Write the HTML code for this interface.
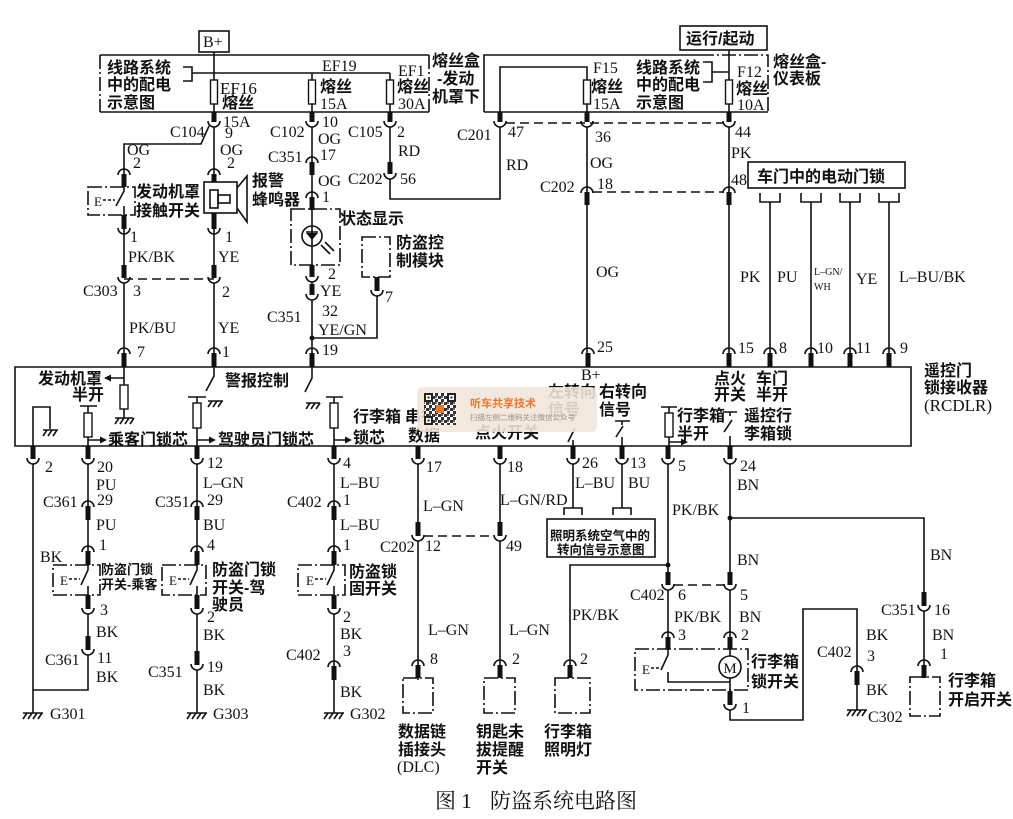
<!DOCTYPE html>
<html><head><meta charset="utf-8">
<style>
html,body{margin:0;padding:0;background:#fff;}
svg{display:block;}
.t{font-family:"Liberation Serif","Noto Serif CJK SC",serif;font-size:16px;fill:#111;}
.c{font-family:"Liberation Sans","Noto Sans CJK SC",sans-serif;font-size:16px;font-weight:bold;fill:#111;}
.s{font-family:"Liberation Sans","Noto Sans CJK SC",sans-serif;font-size:13px;font-weight:bold;fill:#111;}
.w{fill:none;stroke:#111;stroke-width:1.6;}
.d{fill:none;stroke:#111;stroke-width:1.6;stroke-dasharray:9 5;}
.dd{fill:none;stroke:#111;stroke-width:1.6;stroke-dasharray:14 3 2 3;}
.b{fill:#111;}
.r{fill:#fff;stroke:#111;stroke-width:1.4;}
</style></head><body>
<svg width="1013" height="819" viewBox="0 0 1013 819" xmlns="http://www.w3.org/2000/svg">
<defs>
<pattern id="qr" width="6" height="6" patternUnits="userSpaceOnUse"><rect width="6" height="6" fill="#fff"/><rect x="0" y="0" width="3" height="3" fill="#333"/><rect x="3" y="3" width="3" height="3" fill="#333"/><rect x="3" y="0" width="2" height="2" fill="#666"/></pattern>
</defs>
<rect width="1013" height="819" fill="#fff"/>

<!-- ===== TOP FUSE AREA ===== -->
<rect x="199" y="31" width="30" height="21" class="w"/>
<text class="t" x="203" y="47">B+</text>
<path class="w" d="M100,55 H429 M100,112 H429"/>
<path class="dd" d="M100,55 V112 M429,55 V112"/>
<path class="w" d="M484,112 V55 H700 M484,112 H768"/>
<path class="dd" d="M700,55 H768 V112"/>
<rect x="680" y="26" width="87" height="24" class="w"/>
<text class="c" x="686" y="44">运行/起动</text>

<path class="w" d="M183,67 H192 V81 H183 M192,73 H390"/>
<path class="w" d="M703,62 H712 V82 H703 M712,72 H729"/>
<path class="w" d="M214,52 V112 M312,73 V112 M390,73 V112 M729,50 V112"/>
<path class="w" d="M500,112 V67 H587 V112"/>

<rect class="r" x="210.5" y="80" width="7" height="24"/>
<rect class="r" x="308.5" y="80" width="7" height="24"/>
<rect class="r" x="386.5" y="80" width="7" height="24"/>
<rect class="r" x="583.5" y="80" width="7" height="24"/>
<rect class="r" x="725.5" y="80" width="7" height="24"/>

<text class="c" x="107" y="73">线路系统</text>
<text class="c" x="107" y="90">中的配电</text>
<text class="c" x="107" y="108">示意图</text>
<text class="t" x="220" y="94" style="font-size:17px">EF16</text>
<text class="c" x="222" y="108">熔丝</text>
<text class="t" x="223" y="127">15A</text>
<text class="t" x="322" y="71">EF19</text>
<text class="c" x="320" y="92">熔丝</text>
<text class="t" x="320" y="109">15A</text>
<text class="t" x="398" y="76">EF1</text>
<text class="c" x="397" y="92">熔丝</text>
<text class="t" x="398" y="109">30A</text>
<text class="c" x="432" y="66">熔丝盒</text>
<text class="c" x="437" y="84">-发动</text>
<text class="c" x="432" y="102">机罩下</text>
<text class="t" x="593" y="73">F15</text>
<text class="c" x="591" y="92">熔丝</text>
<text class="t" x="593" y="109">15A</text>
<text class="c" x="636" y="73">线路系统</text>
<text class="c" x="636" y="90">中的配电</text>
<text class="c" x="636" y="108">示意图</text>
<text class="t" x="737" y="77">F12</text>
<text class="c" x="736" y="94">熔丝</text>
<text class="t" x="737" y="110">10A</text>
<text class="c" x="773" y="67">熔丝盒-</text>
<text class="c" x="773" y="84">仪表板</text>

<!-- top cups -->
<g>
<rect class="b" x="211.5" y="112" width="5" height="10"/><path class="w" d="M208,121 A6,6 0 0 0 220,121"/>
<rect class="b" x="309.5" y="112" width="5" height="10"/><path class="w" d="M306,121 A6,6 0 0 0 318,121"/>
<rect class="b" x="387.5" y="112" width="5" height="10"/><path class="w" d="M384,121 A6,6 0 0 0 396,121"/>
<rect class="b" x="497.5" y="112" width="5" height="10"/><path class="w" d="M494,121 A6,6 0 0 0 506,121"/>
<rect class="b" x="584.5" y="112" width="5" height="10"/><path class="w" d="M581,121 A6,6 0 0 0 593,121"/>
<rect class="b" x="726.5" y="112" width="5" height="10"/><path class="w" d="M723,121 A6,6 0 0 0 735,121"/>
</g>

<!-- upper wires -->
<path class="w" d="M209,126 L201,144 H124 V174"/>
<path class="w" d="M214,127 V174"/>
<path class="w" d="M124,229 V265 M214,229 V265"/>
<path class="d" d="M124,279 H214"/>
<path class="w" d="M124,283 V353 M214,283 V353"/>
<path class="w" d="M312,127 V162 M312,175 V197 M312,210 V265 M312,282 V284 M312,300 V353"/>
<path class="w" d="M312,338 H377 V296"/>
<circle cx="312" cy="338" r="2.5" class="b"/>
<path class="w" d="M390,127 V162 M390,179 V199 H500 V127"/>
<path class="d" d="M506,123 H723"/>
<path class="w" d="M587,127 V192 M587,205 V353"/>
<path class="d" d="M593,192 H723"/>
<path class="w" d="M729,127 V192 M729,205 V353"/>
<path class="w" d="M770,202 V353 M811,202 V353 M850,202 V353 M889,202 V353"/>

<!-- caps / cups upper -->
<path class="w" d="M118,175 A6,6 0 0 1 130,175"/><rect class="b" x="121.5" y="174" width="5" height="13"/>
<path class="w" d="M208,175 A6,6 0 0 1 220,175"/><rect class="b" x="211.5" y="174" width="5" height="8"/>
<path class="w" d="M306,163 A6,6 0 0 1 318,163"/><rect class="b" x="309.5" y="162" width="5" height="13"/>
<path class="w" d="M306,198 A6,6 0 0 1 318,198"/><rect class="b" x="309.5" y="197" width="5" height="13"/>
<path class="w" d="M581,193 A6,6 0 0 1 593,193"/><rect class="b" x="584.5" y="192" width="5" height="13"/>
<path class="w" d="M723,193 A6,6 0 0 1 735,193"/><rect class="b" x="726.5" y="192" width="5" height="13"/>
<rect class="b" x="387.5" y="162" width="5" height="12"/><path class="w" d="M384,173 A6,6 0 0 0 396,173"/>
<rect class="b" x="121.5" y="215" width="5" height="14"/><path class="w" d="M118,228 A6,6 0 0 0 130,228"/>
<rect class="b" x="211.5" y="213" width="5" height="16"/><path class="w" d="M208,228 A6,6 0 0 0 220,228"/>
<rect class="b" x="121.5" y="265" width="5" height="13"/><path class="w" d="M118,277 A6,6 0 0 0 130,277"/>
<rect class="b" x="211.5" y="265" width="5" height="13"/><path class="w" d="M208,277 A6,6 0 0 0 220,277"/>
<rect class="b" x="309.5" y="265" width="5" height="12"/><path class="w" d="M306,276 A6,6 0 0 0 318,276"/>
<rect class="b" x="309.5" y="284" width="5" height="11"/><path class="w" d="M306,294 A6,6 0 0 0 318,294"/>
<rect class="b" x="374.5" y="277" width="5" height="14"/><path class="w" d="M371,290 A6,6 0 0 0 383,290"/>

<!-- hood switch -->
<rect class="dd" x="88" y="187" width="47" height="28"/>
<text class="t" x="94" y="206" style="font-size:13px">E</text>
<path class="w" d="M103,200 H115" stroke-dasharray="3 2"/>
<path class="w" d="M124,187 V191 L116,206 M124,206 V215"/>
<text class="c" x="136" y="197">发动机罩</text>
<text class="c" x="136" y="216">接触开关</text>

<!-- buzzer -->
<rect class="w" x="204" y="182" width="33" height="31"/>
<rect class="w" x="210" y="190" width="8" height="18"/>
<rect class="w" x="218" y="195" width="12" height="8"/>
<path class="w" d="M237,188 L247,176 V222 L237,208"/>
<text class="c" x="252" y="186">报警</text>
<text class="c" x="252" y="205">蜂鸣器</text>

<!-- status LED -->
<rect class="dd" x="291" y="209" width="49" height="56"/>
<rect x="305" y="226" width="14" height="20" fill="#fff"/>
<circle cx="312" cy="236" r="10" class="w"/>
<path class="w" d="M312,226 V246 M306,232 H318"/>
<path d="M306,233 L318,233 L312,240 Z" class="b"/>
<path class="w" d="M321,245 L330,254 M325,242 L334,251"/>
<text class="c" x="340" y="224">状态显示</text>
<rect class="dd" x="362" y="237" width="28" height="40"/>
<text class="c" x="396" y="248">防盗控</text>
<text class="c" x="396" y="266">制模块</text>

<!-- door lock box -->
<rect class="w" x="748" y="162" width="157" height="26"/>
<text class="c" x="757" y="182">车门中的电动门锁</text>
<path class="w" d="M760,193 V202 H780 V193 M801,193 V202 H821 V193 M840,193 V202 H860 V193 M879,193 V202 H899 V193"/>

<!-- upper labels -->
<text class="t" x="170" y="137">C104</text><text class="t" x="225" y="138">9</text>
<text class="t" x="127" y="155">OG</text><text class="t" x="133" y="168">2</text>
<text class="t" x="220" y="155">OG</text><text class="t" x="227" y="168">2</text>
<text class="t" x="130" y="242">1</text><text class="t" x="225" y="242">1</text>
<text class="t" x="128" y="262">PK/BK</text><text class="t" x="218" y="262">YE</text>
<text class="t" x="83" y="296">C303</text><text class="t" x="133" y="296">3</text><text class="t" x="222" y="297">2</text>
<text class="t" x="129" y="333">PK/BU</text><text class="t" x="218" y="333">YE</text>
<text class="t" x="137" y="357">7</text><text class="t" x="222" y="357">1</text>
<text class="t" x="322" y="127">10</text>
<text class="t" x="270" y="137">C102</text>
<text class="t" x="318" y="144">OG</text>
<text class="t" x="268" y="162">C351</text><text class="t" x="320" y="160">17</text>
<text class="t" x="318" y="186">OG</text>
<text class="t" x="322" y="202">1</text>
<text class="t" x="328" y="279">2</text>
<text class="t" x="320" y="296">YE</text>
<text class="t" x="267" y="322">C351</text><text class="t" x="322" y="316">32</text>
<text class="t" x="318" y="335">YE/GN</text>
<text class="t" x="322" y="355">19</text>
<text class="t" x="385" y="302">7</text>
<text class="t" x="348" y="137">C105</text><text class="t" x="397" y="137">2</text>
<text class="t" x="398" y="156">RD</text>
<text class="t" x="348" y="184">C202</text><text class="t" x="400" y="184">56</text>
<text class="t" x="457" y="140">C201</text><text class="t" x="508" y="137">47</text>
<text class="t" x="506" y="170">RD</text>
<text class="t" x="595" y="142">36</text>
<text class="t" x="590" y="168">OG</text>
<text class="t" x="540" y="192">C202</text><text class="t" x="597" y="189">18</text>
<text class="t" x="735" y="137">44</text>
<text class="t" x="731" y="158">PK</text>
<text class="t" x="731" y="185">48</text>
<text class="t" x="596" y="277">OG</text>
<text class="t" x="740" y="282">PK</text>
<text class="t" x="777" y="282">PU</text>
<text class="t" x="814" y="275" style="font-size:10px">L–GN/</text>
<text class="t" x="814" y="290" style="font-size:10px">WH</text>
<text class="t" x="856" y="284">YE</text>
<text class="t" x="899" y="282">L–BU/BK</text>
<text class="t" x="597" y="352">25</text>
<text class="t" x="738" y="353">15</text>
<text class="t" x="779" y="353">8</text>
<text class="t" x="817" y="353">10</text>
<text class="t" x="856" y="353">11</text>
<text class="t" x="900" y="353">9</text>

<!-- module top caps -->
<g>
<path class="w" d="M118,354 A6,6 0 0 1 130,354"/><rect class="b" x="121.5" y="353" width="5" height="14"/>
<path class="w" d="M208,354 A6,6 0 0 1 220,354"/><rect class="b" x="211.5" y="353" width="5" height="14"/>
<path class="w" d="M306,354 A6,6 0 0 1 318,354"/><rect class="b" x="309.5" y="353" width="5" height="14"/>
<path class="w" d="M582,354 A6,6 0 0 1 594,354"/><rect class="b" x="585.5" y="353" width="5" height="14"/>
<path class="w" d="M723,354 A6,6 0 0 1 735,354"/><rect class="b" x="726.5" y="353" width="5" height="14"/>
<path class="w" d="M764,354 A6,6 0 0 1 776,354"/><rect class="b" x="767.5" y="353" width="5" height="14"/>
<path class="w" d="M805,354 A6,6 0 0 1 817,354"/><rect class="b" x="808.5" y="353" width="5" height="14"/>
<path class="w" d="M844,354 A6,6 0 0 1 856,354"/><rect class="b" x="847.5" y="353" width="5" height="14"/>
<path class="w" d="M883,354 A6,6 0 0 1 895,354"/><rect class="b" x="886.5" y="353" width="5" height="14"/>
</g>

<!-- ===== MODULE ===== -->
<path class="w" d="M15,367 H911 V446 H15 Z" stroke-width="1.8"/>
<!-- left internal -->
<path class="w" d="M33,446 V407 H50 V429"/>
<path class="w" d="M43,430 H58 M47,430 L43,436 M52,430 L48,436 M57,430 L53,436"/>
<path class="w" d="M80,406 H97 M88,406 V413 M88,437 V446 M88,440 H101"/>
<rect class="r" x="84" y="413" width="8" height="24"/>
<path d="M107,440 L100,436.5 L100,443.5 Z" class="b"/>
<path class="w" d="M124,367 V385 M124,409 V418 M107,378 H124"/>
<rect class="r" x="120" y="385" width="8" height="24"/>
<path d="M104,378 L111,374.5 L111,381.5 Z" class="b"/>
<path class="w" d="M115,418 H133 M119,418 L115,424 M124,418 L120,424 M129,418 L125,424 M134,418 L130,424"/>
<path class="w" d="M188,397 H206 M197,397 V403 M197,428 V446 M197,440 H209"/>
<rect class="r" x="193" y="403" width="8" height="25"/>
<path d="M216,440 L209,436.5 L209,443.5 Z" class="b"/>
<path class="w" d="M214,367 V376 L206,391"/>
<path class="w" d="M208,401 H223 M212,401 L208,407 M217,401 L213,407 M222,401 L218,407"/>
<path class="w" d="M312,367 V378 L305,392"/>
<path class="w" d="M306,403 H320 M310,403 L306,409 M315,403 L311,409 M320,403 L316,409"/>
<path class="w" d="M326,397 H343 M334,397 V403 M334,428 V446 M334,440 H345"/>
<rect class="r" x="330" y="403" width="8" height="25"/>
<path d="M352,440 L345,436.5 L345,443.5 Z" class="b"/>
<!-- right internal -->
<path class="w" d="M568,442 L575,428 M573,440 V446"/>
<path class="w" d="M615,421 H630 M622,421 V425 M616,437 L623,426 M622,437 V446"/>
<path class="w" d="M661,407 H677 M669,407 V413 M669,437 V446 M669,442 H681"/>
<rect class="r" x="665" y="413" width="8" height="24"/>
<path d="M688,442 L681,438.5 L681,445.5 Z" class="b"/>
<path class="w" d="M723,412 H737 M730,412 V416 M724,432 L732,420 M730,436 V446"/>

<!-- module texts -->
<text class="c" x="38" y="384">发动机罩</text>
<text class="c" x="72" y="400">半开</text>
<text class="c" x="108" y="445">乘客门锁芯</text>
<text class="c" x="218" y="445">驾驶员门锁芯</text>
<text class="c" x="225" y="386">警报控制</text>
<text class="c" x="353" y="422">行李箱</text>
<text class="c" x="353" y="443">锁芯</text>
<text class="c" x="405" y="422">串行</text>
<text class="c" x="408" y="441">数据</text>
<text class="c" x="475" y="438">点火开关</text>
<text class="c" x="548" y="397">左转向</text>
<text class="c" x="548" y="415">信号</text>
<text class="t" x="581" y="380">B+</text>
<text class="c" x="599" y="397">右转向</text>
<text class="c" x="599" y="415">信号</text>
<text class="c" x="714" y="384">点火</text>
<text class="c" x="714" y="400">开关</text>
<text class="c" x="756" y="384">车门</text>
<text class="c" x="756" y="400">半开</text>
<text class="c" x="677" y="421">行李箱</text>
<text class="c" x="677" y="439">半开</text>
<text class="c" x="744" y="421">遥控行</text>
<text class="c" x="744" y="439">李箱锁</text>
<text class="c" x="924" y="376">遥控门</text>
<text class="c" x="924" y="393">锁接收器</text>
<text class="t" x="924" y="411" style="font-size:17px">(RCDLR)</text>

<!-- watermark -->
<rect x="417" y="387" width="180" height="45" rx="6" fill="#f0e5d8" opacity="0.88"/>
<rect x="424" y="393" width="32" height="32" fill="url(#qr)"/>
<rect x="424" y="393" width="9" height="9" fill="#222"/><rect x="426" y="395" width="5" height="5" fill="#fff"/><rect x="427.5" y="396.5" width="2" height="2" fill="#222"/>
<rect x="447" y="393" width="9" height="9" fill="#222"/><rect x="449" y="395" width="5" height="5" fill="#fff"/><rect x="450.5" y="396.5" width="2" height="2" fill="#222"/>
<rect x="424" y="416" width="9" height="9" fill="#222"/><rect x="426" y="418" width="5" height="5" fill="#fff"/><rect x="427.5" y="419.5" width="2" height="2" fill="#222"/>
<rect x="436" y="405" width="8" height="8" fill="#e8772e"/>
<text x="470" y="407" font-family="Liberation Sans,Noto Sans CJK SC,sans-serif" font-size="11" font-weight="bold" fill="#e9782f">听车共享技术</text>
<text x="470" y="420" font-family="Liberation Sans,Noto Sans CJK SC,sans-serif" font-size="7.5" fill="#9a8f86">扫描左侧二维码关注微信公众号</text>

<!-- module bottom cups -->
<g>
<rect class="b" x="30.5" y="446" width="5" height="13"/><path class="w" d="M27,458 A6,6 0 0 0 39,458"/>
<rect class="b" x="85.5" y="446" width="5" height="13"/><path class="w" d="M82,458 A6,6 0 0 0 94,458"/>
<rect class="b" x="194.5" y="446" width="5" height="13"/><path class="w" d="M191,458 A6,6 0 0 0 203,458"/>
<rect class="b" x="331.5" y="446" width="5" height="13"/><path class="w" d="M328,458 A6,6 0 0 0 340,458"/>
<rect class="b" x="415.5" y="446" width="5" height="13"/><path class="w" d="M412,458 A6,6 0 0 0 424,458"/>
<rect class="b" x="497.5" y="446" width="5" height="13"/><path class="w" d="M494,458 A6,6 0 0 0 506,458"/>
<rect class="b" x="570.5" y="446" width="5" height="13"/><path class="w" d="M567,458 A6,6 0 0 0 579,458"/>
<rect class="b" x="619.5" y="446" width="5" height="13"/><path class="w" d="M616,458 A6,6 0 0 0 628,458"/>
<rect class="b" x="665.5" y="446" width="5" height="13"/><path class="w" d="M662,458 A6,6 0 0 0 674,458"/>
<rect class="b" x="727.5" y="446" width="5" height="13"/><path class="w" d="M724,458 A6,6 0 0 0 736,458"/>
</g>

<!-- ===== LOWER WIRES ===== -->
<path class="w" d="M33,464 V713"/>
<path class="w" d="M88,464 V506 M88,520 V551 M88,565 V570 L81,585 M88,586 V595 M88,614 V636 M88,655 V690 H33"/>
<path class="w" d="M197,464 V506 M197,520 V551 M197,565 V570 L190,585 M197,586 V595 M197,614 V651 M197,670 V713"/>
<path class="w" d="M334,464 V506 M334,520 V551 M334,565 V570 L327,585 M334,586 V595 M334,614 V666 M334,680 V713"/>
<path class="w" d="M418,464 V522 M418,541 V665 M418,678 V680"/>
<path class="w" d="M500,464 V522 M500,541 V665"/>
<path class="d" d="M424,536 H494"/>
<path class="w" d="M573,464 V508 M622,464 V508"/>
<path class="w" d="M564,515 V508 H582 V515 M613,515 V508 H631 V515"/>
<path class="w" d="M668,464 V572 M668,590 V637"/>
<path class="w" d="M668,565 H570 V665"/>
<circle cx="668" cy="565" r="2.5" class="b"/>
<path class="w" d="M730,464 V572 M730,590 V637"/>
<path class="w" d="M730,518 H924 V592 M924,611 V665"/>
<circle cx="730" cy="518" r="2.5" class="b"/>
<path class="d" d="M674,585 H724"/>
<path class="w" d="M730,649 V656 M730,678 V691 M730,710 V720 H803 V609 H857 V671 M857,685 V710"/>

<!-- lower connectors -->
<g>
<path class="w" d="M82,507 A6,6 0 0 1 94,507"/><rect class="b" x="85.5" y="506" width="5" height="14"/>
<path class="w" d="M191,507 A6,6 0 0 1 203,507"/><rect class="b" x="194.5" y="506" width="5" height="14"/>
<path class="w" d="M328,507 A6,6 0 0 1 340,507"/><rect class="b" x="331.5" y="506" width="5" height="14"/>
<path class="w" d="M82,552 A6,6 0 0 1 94,552"/><rect class="b" x="85.5" y="551" width="5" height="14"/>
<path class="w" d="M191,552 A6,6 0 0 1 203,552"/><rect class="b" x="194.5" y="551" width="5" height="14"/>
<path class="w" d="M328,552 A6,6 0 0 1 340,552"/><rect class="b" x="331.5" y="551" width="5" height="14"/>
<rect class="b" x="85.5" y="595" width="5" height="14"/><path class="w" d="M82,608 A6,6 0 0 0 94,608"/>
<rect class="b" x="194.5" y="595" width="5" height="14"/><path class="w" d="M191,608 A6,6 0 0 0 203,608"/>
<rect class="b" x="331.5" y="595" width="5" height="14"/><path class="w" d="M328,608 A6,6 0 0 0 340,608"/>
<rect class="b" x="85.5" y="636" width="5" height="14"/><path class="w" d="M82,649 A6,6 0 0 0 94,649"/>
<rect class="b" x="194.5" y="651" width="5" height="14"/><path class="w" d="M191,664 A6,6 0 0 0 203,664"/>
<path class="w" d="M328,667 A6,6 0 0 1 340,667"/><rect class="b" x="331.5" y="666" width="5" height="14"/>
<rect class="b" x="415.5" y="522" width="5" height="14"/><path class="w" d="M412,535 A6,6 0 0 0 424,535"/>
<rect class="b" x="497.5" y="522" width="5" height="14"/><path class="w" d="M494,535 A6,6 0 0 0 506,535"/>
<path class="w" d="M412,666 A6,6 0 0 1 424,666"/><rect class="b" x="415.5" y="665" width="5" height="13"/>
<path class="w" d="M494,666 A6,6 0 0 1 506,666"/><rect class="b" x="497.5" y="665" width="5" height="13"/>
<path class="w" d="M564,666 A6,6 0 0 1 576,666"/><rect class="b" x="567.5" y="665" width="5" height="13"/>
<rect class="b" x="665.5" y="572" width="5" height="13"/><path class="w" d="M662,584 A6,6 0 0 0 674,584"/>
<rect class="b" x="727.5" y="572" width="5" height="13"/><path class="w" d="M724,584 A6,6 0 0 0 736,584"/>
<path class="w" d="M662,638 A6,6 0 0 1 674,638"/><rect class="b" x="665.5" y="637" width="5" height="12"/>
<path class="w" d="M724,638 A6,6 0 0 1 736,638"/><rect class="b" x="727.5" y="637" width="5" height="12"/>
<rect class="b" x="727.5" y="691" width="5" height="14"/><path class="w" d="M724,704 A6,6 0 0 0 736,704"/>
<path class="w" d="M851,672 A6,6 0 0 1 863,672"/><rect class="b" x="854.5" y="671" width="5" height="14"/>
<rect class="b" x="921.5" y="592" width="5" height="14"/><path class="w" d="M918,605 A6,6 0 0 0 930,605"/>
<path class="w" d="M918,666 A6,6 0 0 1 930,666"/><rect class="b" x="921.5" y="665" width="5" height="13"/>
</g>

<!-- lower switch boxes -->
<rect class="dd" x="53" y="565" width="47" height="30"/>
<text class="t" x="60" y="585" style="font-size:13px">E</text>
<path class="w" d="M69,579 H80" stroke-dasharray="3 2"/>
<rect class="dd" x="162" y="565" width="44" height="30"/>
<text class="t" x="169" y="585" style="font-size:13px">E</text>
<path class="w" d="M178,579 H189" stroke-dasharray="3 2"/>
<rect class="dd" x="298" y="565" width="47" height="30"/>
<text class="t" x="306" y="585" style="font-size:13px">E</text>
<path class="w" d="M315,579 H326" stroke-dasharray="3 2"/>

<!-- bottom component boxes -->
<rect class="dd" x="403" y="678" width="30" height="35"/>
<rect class="dd" x="484" y="678" width="31" height="35"/>
<rect class="dd" x="555" y="678" width="35" height="35"/>
<rect class="dd" x="910" y="677" width="30" height="39"/>
<rect class="w" x="547" y="519" width="108" height="38"/>
<text class="c" x="550" y="540" style="font-size:12.5px">照明系统空气中的</text>
<text class="c" x="557" y="554" style="font-size:12.5px">转向信号示意图</text>

<!-- trunk lock -->
<rect class="dd" x="635" y="649" width="113" height="41"/>
<text class="t" x="642" y="674" style="font-size:13px">E</text>
<path class="w" d="M651,668 H660" stroke-dasharray="3 2"/>
<path class="w" d="M668,649 V655 L661,670 M668,672 V682 H730"/>
<circle cx="730" cy="667" r="11" class="w" style="fill:#fff"/>
<text class="t" x="730" y="673" style="font-size:15px" text-anchor="middle">M</text>

<!-- grounds -->
<path class="w" d="M23,713 H43 M27,713 L23,719 M32,713 L28,719 M37,713 L33,719 M42,713 L38,719"/>
<path class="w" d="M187,713 H207 M191,713 L187,719 M196,713 L192,719 M201,713 L197,719 M206,713 L202,719"/>
<path class="w" d="M324,713 H344 M328,713 L324,719 M333,713 L329,719 M338,713 L334,719 M343,713 L339,719"/>
<path class="w" d="M847,710 H867 M851,710 L847,716 M856,710 L852,716 M861,710 L857,716 M866,710 L862,716"/>

<!-- lower labels -->
<text class="t" x="45" y="472">2</text>
<text class="t" x="97" y="472">20</text>
<text class="t" x="96" y="490">PU</text>
<text class="t" x="43" y="507">C361</text><text class="t" x="97" y="505">29</text>
<text class="t" x="96" y="530">PU</text>
<text class="t" x="40" y="562">BK</text>
<text class="t" x="99" y="550">1</text>
<text class="s" x="101" y="574">防盗门锁</text>
<text class="s" x="101" y="589">开关-乘客</text>
<text class="t" x="100" y="615">3</text>
<text class="t" x="96" y="637">BK</text>
<text class="t" x="45" y="665">C361</text><text class="t" x="97" y="663">11</text>
<text class="t" x="96" y="682">BK</text>
<text class="t" x="50" y="719">G301</text>

<text class="t" x="207" y="468">12</text>
<text class="t" x="203" y="488">L–GN</text>
<text class="t" x="155" y="507">C351</text><text class="t" x="207" y="505">29</text>
<text class="t" x="203" y="530">BU</text>
<text class="t" x="207" y="550">4</text>
<text class="c" x="212" y="575">防盗门锁</text>
<text class="c" x="212" y="593">开关-驾</text>
<text class="c" x="212" y="610">驶员</text>
<text class="t" x="207" y="622">2</text>
<text class="t" x="203" y="640">BK</text>
<text class="t" x="148" y="677">C351</text><text class="t" x="207" y="672">19</text>
<text class="t" x="203" y="695">BK</text>
<text class="t" x="213" y="719">G303</text>

<text class="t" x="343" y="468">4</text>
<text class="t" x="340" y="488">L–BU</text>
<text class="t" x="287" y="507">C402</text><text class="t" x="343" y="505">1</text>
<text class="t" x="340" y="530">L–BU</text>
<text class="t" x="343" y="550">1</text>
<text class="c" x="349" y="577">防盗锁</text>
<text class="c" x="349" y="594">固开关</text>
<text class="t" x="343" y="622">2</text>
<text class="t" x="340" y="639">BK</text>
<text class="t" x="286" y="660">C402</text><text class="t" x="343" y="656">3</text>
<text class="t" x="340" y="697">BK</text>
<text class="t" x="350" y="719">G302</text>

<text class="t" x="426" y="472">17</text>
<text class="t" x="423" y="511">L–GN</text>
<text class="t" x="380" y="552">C202</text><text class="t" x="425" y="551">12</text>
<text class="t" x="428" y="635">L–GN</text>
<text class="t" x="430" y="664">8</text>
<text class="t" x="507" y="472">18</text>
<text class="t" x="500" y="505">L–GN/RD</text>
<text class="t" x="506" y="551">49</text>
<text class="t" x="509" y="635">L–GN</text>
<text class="t" x="512" y="664">2</text>
<text class="t" x="582" y="468">26</text>
<text class="t" x="575" y="488">L–BU</text>
<text class="t" x="630" y="468">13</text>
<text class="t" x="628" y="488">BU</text>
<text class="t" x="572" y="620">PK/BK</text>
<text class="t" x="580" y="664">2</text>

<text class="t" x="678" y="471">5</text>
<text class="t" x="740" y="471">24</text>
<text class="t" x="737" y="490">BN</text>
<text class="t" x="672" y="515">PK/BK</text>
<text class="t" x="737" y="565">BN</text>
<text class="t" x="930" y="560">BN</text>
<text class="t" x="630" y="600">C402</text><text class="t" x="678" y="600">6</text><text class="t" x="740" y="600">5</text>
<text class="t" x="674" y="622">PK/BK</text><text class="t" x="739" y="622">BN</text>
<text class="t" x="678" y="640">3</text><text class="t" x="741" y="640">2</text>
<text class="c" x="751" y="667">行李箱</text>
<text class="c" x="751" y="687">锁开关</text>
<text class="t" x="742" y="713">1</text>
<text class="t" x="881" y="615">C351</text><text class="t" x="934" y="615">16</text>
<text class="t" x="866" y="640">BK</text>
<text class="t" x="932" y="640">BN</text>
<text class="t" x="817" y="657">C402</text><text class="t" x="867" y="661">3</text>
<text class="t" x="940" y="659">1</text>
<text class="t" x="866" y="695">BK</text>
<text class="t" x="868" y="722">C302</text>
<text class="c" x="948" y="686">行李箱</text>
<text class="c" x="948" y="705">开启开关</text>

<text class="c" x="398" y="737">数据链</text>
<text class="c" x="398" y="755">插接头</text>
<text class="t" x="397" y="772">(DLC)</text>
<text class="c" x="476" y="737">钥匙未</text>
<text class="c" x="476" y="755">拔提醒</text>
<text class="c" x="476" y="773">开关</text>
<text class="c" x="544" y="737">行李箱</text>
<text class="c" x="544" y="755">照明灯</text>

<text x="435" y="808" font-family="Liberation Serif,Noto Serif CJK SC,serif" font-size="21" fill="#111">图 1</text>
<text x="490" y="808" font-family="Liberation Serif,Noto Serif CJK SC,serif" font-size="21" fill="#111">防盗系统电路图</text>
</svg>
</body></html>
